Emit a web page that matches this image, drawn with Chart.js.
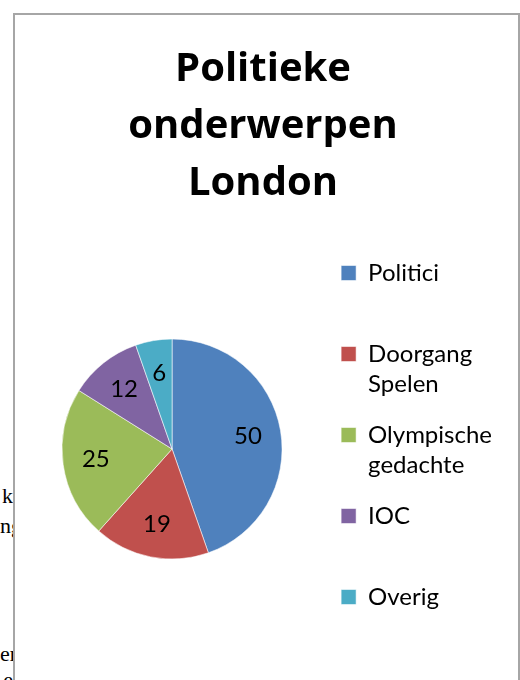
<!DOCTYPE html>
<html>
<head>
<meta charset="utf-8">
<script src="https://cdn.jsdelivr.net/npm/chart.js@4"></script>
<style>
  html, body { margin: 0; padding: 0; background: #fff; overflow: hidden; }
  body { width: 520px; height: 680px; position: relative; }
  #frame {
    position: absolute; left: 13px; top: 13px;
    width: 503px; height: 700px;
    border: 2px solid #a6a6a6;
    background: #fff;
  }
  #chartBox { position: absolute; left: 0; top: 0; width: 503px; height: 665px; }
  .stray {
    position: absolute; left: 0; width: 13px; overflow: hidden;
    font-family: "Liberation Serif", serif; font-size: 22px; color: #000;
    text-align: right; white-space: nowrap; line-height: 24px;
  }
</style>
</head>
<body>
<div class="stray" style="top:484px">k</div>
<div class="stray" style="top:514px">ng</div>
<div class="stray" style="top:642px">er</div>
<div class="stray" style="top:668px">e</div>
<div id="frame">
  <div id="chartBox"><canvas id="pieChart"></canvas></div>
</div>
<script>
const titleLines = ["Politieke", "onderwerpen", "London"];
const categories = ["Politici", "Doorgang Spelen", "Olympische gedachte", "IOC", "Overig"];
const values = [50, 19, 25, 12, 6];
const colors = ["#4F81BD", "#C0504D", "#9BBB59", "#8064A2", "#4BACC6"];

// legend labels wrap on the space; single words get an empty 2nd line
// (except the last one, so the legend stays one column)
const legendLabels = categories.map((c, i) => {
  const parts = c.split(" ");
  if (i === categories.length - 1) return parts;
  return [parts[0], parts[1] || ""];
});

// numbers inside the slices
const sliceLabels = {
  id: "sliceLabels",
  afterDatasetsDraw(chart) {
    const ctx = chart.ctx;
    const meta = chart.getDatasetMeta(0);
    ctx.save();
    ctx.font = "24px Lato";
    ctx.fillStyle = "#000";
    ctx.textAlign = "center";
    ctx.textBaseline = "middle";
    meta.data.forEach((arc, i) => {
      const p = arc.getProps(["x", "y", "startAngle", "endAngle", "outerRadius"], true);
      const mid = (p.startAngle + p.endAngle) / 2;
      const r = p.outerRadius * 0.7;
      ctx.fillText(String(values[i]), p.x + Math.cos(mid) * r, p.y + Math.sin(mid) * r);
    });
    ctx.restore();
  }
};

new Chart(document.getElementById("pieChart"), {
  type: "pie",
  data: {
    labels: legendLabels,
    datasets: [{
      data: values,
      backgroundColor: colors,
      borderColor: "rgba(255,255,255,0.55)",
      borderWidth: 1
    }]
  },
  options: {
    responsive: true,
    maintainAspectRatio: false,
    animation: false,
    radius: 110,
    layout: { padding: { left: 9, right: 16, top: 0, bottom: 22 } },
    plugins: {
      title: {
        display: true,
        text: titleLines,
        color: "#000",
        font: { family: "Open Sans", size: 40, weight: "bold", lineHeight: 1.425 },
        padding: { top: 26, bottom: 28 }
      },
      legend: {
        position: "right",
        align: "start",
        fullSize: false,
        labels: {
          color: "#000",
          boxWidth: 15,
          boxHeight: 15,
          padding: 21,
          font: { family: "Lato", size: 24, lineHeight: 1.25 }
        }
      },
      tooltip: { enabled: false }
    }
  },
  plugins: [sliceLabels]
});
</script>
</body>
</html>
